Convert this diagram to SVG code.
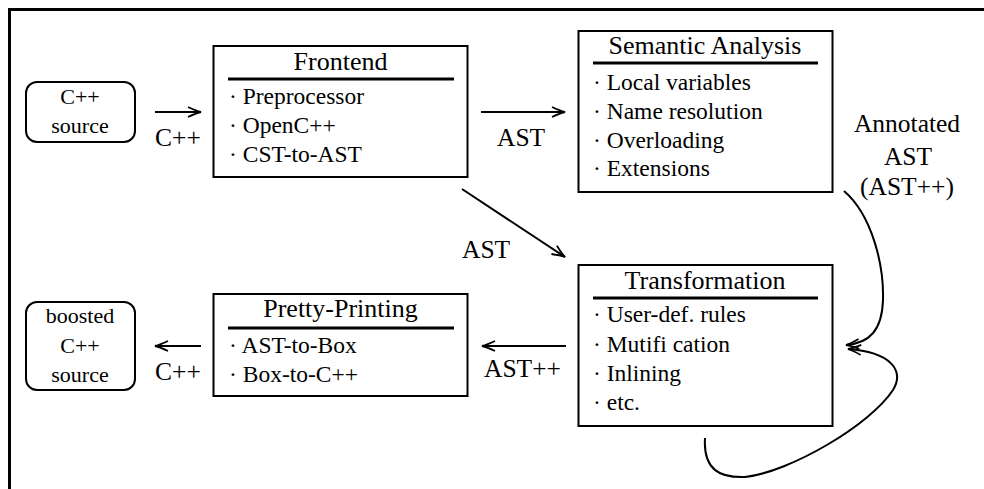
<svg xmlns="http://www.w3.org/2000/svg" width="984" height="489" viewBox="0 0 984 489" font-family="'Liberation Serif', 'Times New Roman', serif">
<defs>
<style>
text{font-family:'Liberation Serif','Times New Roman',serif;fill:#000}
.t{font-size:26px;text-anchor:middle}
.i{font-size:23.5px}
.l{font-size:25.5px}
.s{font-size:22px;text-anchor:middle}
.box{fill:#fff;stroke:#000;stroke-width:2}
.rb{fill:#fff;stroke:#000;stroke-width:2}
.ul{stroke:#000;stroke-width:3}
.c{fill:none;stroke:#000;stroke-width:2;marker-end:url(#ah)}
</style>
<marker id="ah" markerWidth="16" markerHeight="12" refX="0" refY="0" viewBox="-14 -6 16 12" orient="auto" markerUnits="userSpaceOnUse">
<path d="M-13,-5 Q-5,-1.2 0,0 Q-5,1.2 -13,5" fill="none" stroke="#000" stroke-width="1.8"/>
</marker>
</defs>
<rect width="984" height="489" fill="#fff"/>
<g id="frame">
<line x1="8" y1="9.5" x2="984" y2="9.5" stroke="#000" stroke-width="3"/>
<line x1="9.5" y1="8" x2="9.5" y2="489" stroke="#000" stroke-width="3"/>
</g>
<g id="connectors">
<path class="c" d="M155,112 L201,112"/>
<path class="c" d="M481,112 L565,112"/>
<path class="c" d="M462,189 L565,257"/>
<path class="c" d="M566,346 L482,346"/>
<path class="c" d="M201,346 L155,346"/>
<path class="c" d="M844,191 C872,215 884,265 883,300 C882,330 870,343 846,345"/>
<path class="c" d="M705,438 C703,470 720,478 745,477 C790,472 870,425 893,390 C905,370 890,352 848,349"/>
<text class="l" x="155" y="146">C++</text>
<text class="l" x="497" y="146">AST</text>
<text class="l" x="462" y="258">AST</text>
<text class="l" x="484" y="377">AST++</text>
<text class="l" x="155" y="380">C++</text>
<text class="l" x="907" y="132" text-anchor="middle">Annotated</text>
<text class="l" x="908" y="165" text-anchor="middle">AST</text>
<text class="l" x="907" y="195" text-anchor="middle">(AST++)</text>
</g>
<g id="cpp-source">
<rect class="rb" x="26" y="82" width="109" height="60" rx="11"/>
<text class="s" x="80" y="104">C++</text>
<text class="s" x="80" y="133">source</text>
</g>
<g id="frontend">
<rect class="box" x="213.5" y="46" width="254" height="131"/>
<text class="t" x="340.5" y="70">Frontend</text>
<line class="ul" x1="228" y1="79" x2="454" y2="79"/>
<text class="i" x="229" y="104">· Preprocessor</text>
<text class="i" x="229" y="133">· OpenC++</text>
<text class="i" x="229" y="162">· CST-to-AST</text>
</g>
<g id="semantic">
<rect class="box" x="578.5" y="31" width="254" height="161"/>
<text class="t" x="705" y="54">Semantic Analysis</text>
<line class="ul" x1="593" y1="63" x2="818" y2="63"/>
<text class="i" x="593" y="90">· Local variables</text>
<text class="i" x="593" y="119">· Name resolution</text>
<text class="i" x="593" y="148">· Overloading</text>
<text class="i" x="593" y="176">· Extensions</text>
</g>
<g id="transformation">
<rect class="box" x="578.5" y="265" width="254" height="161"/>
<text class="t" x="705" y="289">Transformation</text>
<line class="ul" x1="593" y1="298" x2="818" y2="298"/>
<text class="i" x="593" y="322">· User-def. rules</text>
<text class="i" x="593" y="352">· Mutifi cation</text>
<text class="i" x="593" y="381">· Inlining</text>
<text class="i" x="593" y="410">· etc.</text>
</g>
<g id="pretty">
<rect class="box" x="213.5" y="294" width="254" height="102"/>
<text class="t" x="340.5" y="317">Pretty-Printing</text>
<line class="ul" x1="228" y1="328" x2="454" y2="328"/>
<text class="i" x="229" y="353">· AST-to-Box</text>
<text class="i" x="229" y="382">· Box-to-C++</text>
</g>
<g id="boosted">
<rect class="rb" x="26" y="302" width="109" height="88" rx="11"/>
<text class="s" x="80" y="323">boosted</text>
<text class="s" x="80" y="353">C++</text>
<text class="s" x="80" y="382">source</text>
</g>
</svg>
